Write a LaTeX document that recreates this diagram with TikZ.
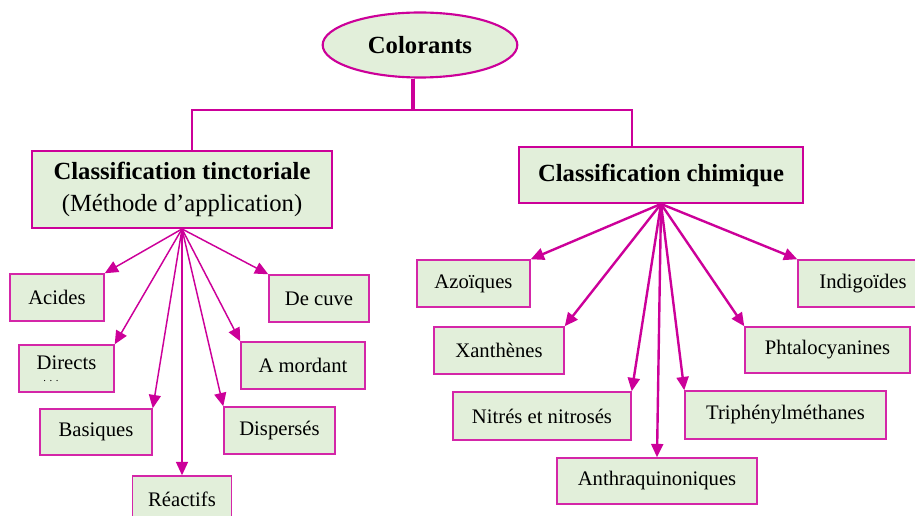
\documentclass[tikz,border=0pt]{standalone}
\usepackage{fontspec}
\setmainfont{Liberation Serif}
\definecolor{rose}{HTML}{CC0099}
\definecolor{sage}{HTML}{E2EFDA}
\usetikzlibrary{calc, positioning, shapes.geometric, arrows.meta}

\begin{document}
\begin{tikzpicture}[
  x=0.75pt, y=-0.75pt,
  root/.style={ellipse, draw=rose, line width=1.6pt, fill=sage, inner sep=0pt,
               minimum width=146pt, minimum height=48.75pt,
               font=\fontsize{18.5}{22}\selectfont\bfseries},
  family/.style={draw=rose, line width=1.4pt, fill=sage, align=center,
                 font=\fontsize{18.5}{24}\selectfont},
  leaf/.style={draw=rose!85, line width=1.1pt, fill=sage, minimum height=35.25pt,
               inner sep=2pt, font=\fontsize{15.5}{18}\selectfont},
  branch/.style={draw=rose, line width=1.5pt},
  tarrow/.style={draw=rose, line width=1.1pt, -{Triangle[length=10pt, width=9pt]}},
  carrow/.style={draw=rose, line width=1.8pt, -{Triangle[length=10pt, width=9pt]}},
]
\useasboundingbox (0,0) rectangle (915,516);

\node[root] (colorants) at (420,45) {Colorants};

\node[family, minimum width=225pt, minimum height=57.75pt] (tinct) at (182,189.5)
  {\textbf{Classification tinctoriale}\\(Méthode d’application)};
\node[family, minimum width=213pt, minimum height=42pt] (chim) at (661,175)
  {\textbf{Classification chimique}};

\coordinate (hub) at (413,110);
\coordinate (lt) at (192,110);
\coordinate (rt) at (632,110);
\draw[draw=rose, line width=2.6pt] (hub |- colorants.south) -- (hub);
\draw[branch] (lt |- tinct.north) -- (lt) -- (rt) -- (rt |- chim.north);

% classification tinctoriale
\node[leaf, minimum width=70.5pt] (acides) at (57,297.5) {Acides};
\node[leaf, minimum width=75pt] (decuve) at (319,298.5) {De cuve};
\node[leaf, minimum width=71.25pt, align=left] (directs) at (66.5,368.5)
  {Directs\\[-9pt]\hspace{5pt}{\footnotesize .\,\,.\,\,.}};
\node[leaf, minimum width=93pt] (amordant) at (303,365.5) {A mordant};
\node[leaf, minimum width=84pt, minimum height=34.5pt] (basiques) at (96,432) {Basiques};
\node[leaf, minimum width=83.25pt] (disperses) at (279.5,430.5) {Dispersés};
\node[leaf, minimum width=74.25pt] (reactifs) at (182,499.5) {Réactifs};

\draw[tarrow] (tinct.south) -- (acides.north east);
\draw[tarrow] (tinct.south) -- (decuve.north west);
\draw[tarrow] (tinct.south) -- (directs.north east);
\draw[tarrow] (tinct.south) -- (amordant.north west);
\draw[tarrow] (tinct.south) -- (basiques.north east);
\draw[tarrow] (tinct.south) -- (disperses.north west);
\draw[tarrow] (tinct.south) -- (reactifs.north);

% classification chimique
\node[leaf, minimum width=84.75pt] (azoiques) at (473.5,283.5) {Azoïques};
\node[leaf, minimum width=97.5pt] (indigoides) at (863,283.5) {Indigoïdes};
\node[leaf, minimum width=97.5pt] (xanthenes) at (499,350.5) {Xanthènes};
\node[leaf, minimum width=123.75pt, minimum height=34.5pt] (phtalo) at (827.5,350) {Phtalocyanines};
\node[leaf, minimum width=133.5pt, minimum height=36pt] (nitres) at (542,416) {Nitrés et nitrosés};
\node[leaf, minimum width=150.75pt, minimum height=36pt] (triphenyl) at (785.5,415) {Triphénylméthanes};
\node[leaf, minimum width=150pt, minimum height=34.5pt] (anthra) at (657,481) {Anthraquinoniques};

\draw[carrow] (chim.south) -- (azoiques.north east);
\draw[carrow] (chim.south) -- (indigoides.north west);
\draw[carrow] (chim.south) -- (xanthenes.north east);
\draw[carrow] (chim.south) -- (phtalo.north west);
\draw[carrow] (chim.south) -- (nitres.north east);
\draw[carrow] (chim.south) -- (triphenyl.north west);
\draw[carrow] (chim.south) -- (anthra.north);
\end{tikzpicture}
\end{document}
